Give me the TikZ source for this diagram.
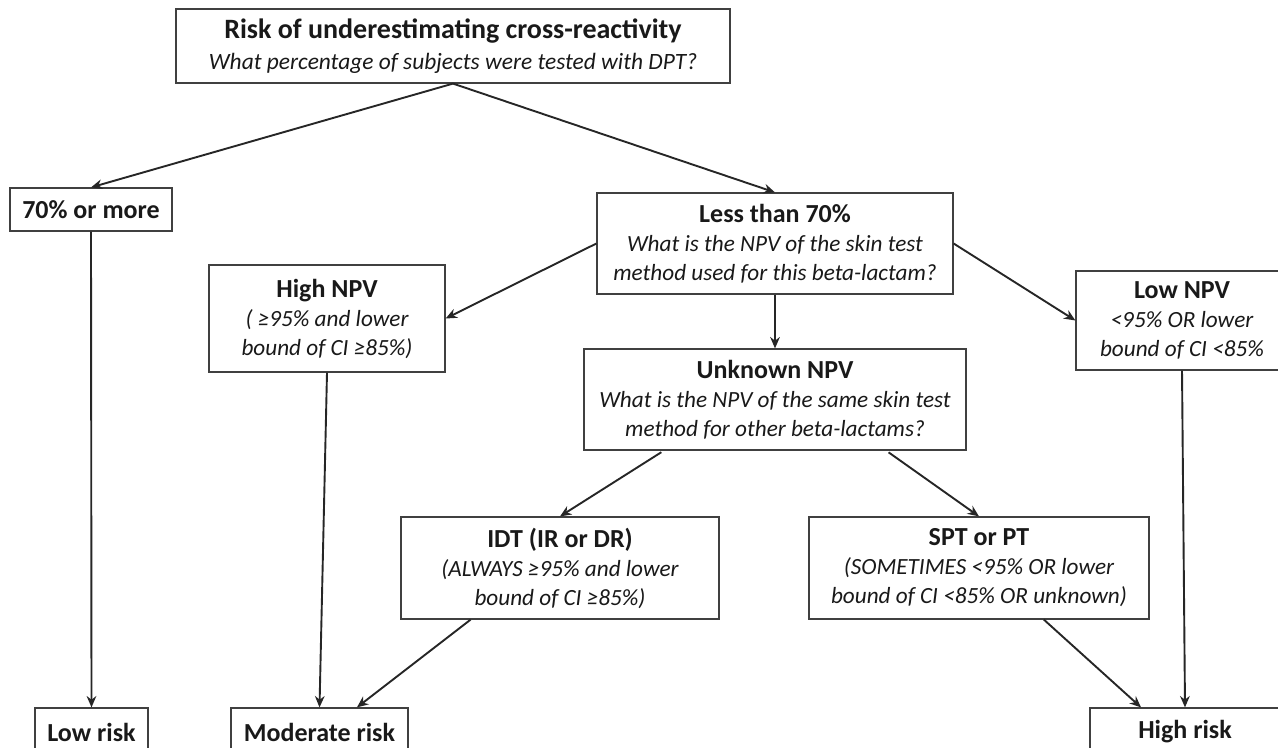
\documentclass[tikz,border=0pt]{standalone}
\usepackage{fontspec}
\setmainfont{Carlito}
\usetikzlibrary{positioning,arrows.meta,calc}

\newcommand{\bigttl}[1]{{\fontsize{14}{15}\selectfont\bfseries\upshape #1}}
\newcommand{\ttl}[1]{{\fontsize{13}{14.5}\selectfont\bfseries\upshape #1}}

\begin{document}
\begin{tikzpicture}[
  x=0.5pt, y=-0.5pt,
  >={Stealth[length=2mm, width=1.7mm]},
  box/.style={draw=black!75, line width=0.6pt, align=center, inner sep=2pt,
              text=black!90, fill=white},
  qbox/.style={box, font=\fontsize{11.6}{14.5}\selectfont\itshape},
  rbox/.style={box, font=\fontsize{13}{14.5}\selectfont\bfseries,
               minimum height=24pt},
  arr/.style={->, line width=0.95pt, black!85},
]
\clip (0,0) rectangle (1278,748);

%% ---------- top question ----------
\node[box, font=\fontsize{11.7}{15.5}\selectfont\itshape,
      minimum width=277pt, minimum height=37pt] (risk) at (453,46)
  {\bigttl{Risk of underestimating cross-reactivity}\\
   What percentage of subjects were tested with DPT?};

%% ---------- DPT split ----------
\node[rbox, minimum width=81pt, minimum height=21.5pt] (more) at (91,209.5) {70\% or more};

\node[qbox, minimum width=178pt, minimum height=50.5pt] (less) at (775,243.5)
  {\ttl{Less than 70\%}\\ What is the NPV of the skin test\\ method used for this beta-lactam?};

\draw[arr] (risk.south) -- (more.north);
\draw[arr] (risk.south) -- (less.north);

%% ---------- NPV of the method ----------
\node[qbox, minimum width=118pt, minimum height=53.5pt] (highnpv) at (327,318.5)
  {\ttl{High NPV}\\ ( ≥95\% and lower\\ bound of CI ≥85\%)};

\node[qbox, minimum width=106pt, minimum height=49.5pt] (lownpv) at (1182,320.5)
  {\ttl{Low NPV}\\ <95\% OR lower\\ bound of CI <85\%};

\node[qbox, minimum width=191pt, minimum height=50.5pt] (unknown) at (775,399.5)
  {\ttl{Unknown NPV}\\ What is the NPV of the same skin test\\ method for other beta-lactams?};

\draw[arr] (less.west) -- (highnpv.east);
\draw[arr] (less.east) -- (lownpv.west);
\draw[arr] (less.south) -- (unknown.north);

%% ---------- other beta-lactams ----------
\node[qbox, minimum width=159pt, minimum height=51pt] (idt) at (560,568)
  {\ttl{IDT (IR or DR)}\\ (ALWAYS ≥95\% and lower\\ bound of CI ≥85\%)};

\node[qbox, minimum width=170pt, minimum height=51pt] (spt) at (979,568)
  {\ttl{SPT or PT}\\ (SOMETIMES <95\% OR lower\\ bound of CI <85\% OR unknown)};

\draw[arr, shorten <=1.5pt] ($(unknown.south west)!0.21!(unknown.south east)$) -- (idt.north);
\draw[arr, shorten <=1.5pt] ($(unknown.south west)!0.79!(unknown.south east)$) -- (spt.north);

%% ---------- risk levels ----------
\node[rbox, minimum width=56.5pt] (lowrisk) at (91.5,732) {Low risk};
\node[rbox, minimum width=88.5pt] (modrisk) at (319.5,732) {Moderate risk};
\node[rbox, minimum width=95pt] (highrisk) at (1185,732) {High risk};

\draw[arr] (more.south) -- (lowrisk.north);
\draw[arr] (highnpv.south) -- (modrisk.north);
\draw[arr] ($(idt.south west)!0.22!(idt.south east)$) -- ($(modrisk.north west)!0.71!(modrisk.north east)$);
\draw[arr] ($(spt.south west)!0.69!(spt.south east)$) -- ($(highrisk.north west)!0.27!(highrisk.north east)$);
\draw[arr] (lownpv.south) -- (highrisk.north);

\end{tikzpicture}
\end{document}
